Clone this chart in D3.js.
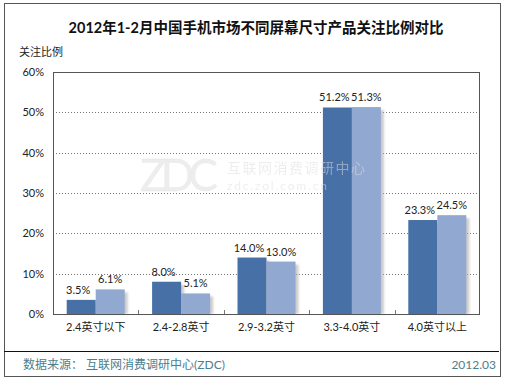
<!DOCTYPE html>
<html><head><meta charset="utf-8">
<script src="https://cdn.jsdelivr.net/npm/d3@7"></script>
<style>
html,body{margin:0;padding:0;background:#fff;}
svg{display:block;}
text{font-family:"Lato","Noto Sans CJK SC",sans-serif;}
</style></head>
<body>
<script>
const title = "2012年1-2月中国手机市场不同屏幕尺寸产品关注比例对比";
const yAxisTitle = "关注比例";
const categories = ["2.4英寸以下","2.4-2.8英寸","2.9-3.2英寸","3.3-4.0英寸","4.0英寸以上"];
const seriesJan = [3.5, 8.0, 14.0, 51.2, 23.3];
const seriesFeb = [6.1, 5.1, 13.0, 51.3, 24.5];
const yTicks = [0,10,20,30,40,50,60];
const sourceText = "数据来源：  互联网消费调研中心(ZDC)";
const dateText = "2012.03";

const W=507,H=381;
const svg=d3.select("body").append("svg").attr("width",W).attr("height",H);
svg.append("rect").attr("x",0).attr("y",0).attr("width",W).attr("height",H).attr("fill","#fff");

const defs=svg.append("defs");
const f=defs.append("filter").attr("id","sh").attr("x","-30%").attr("y","-10%").attr("width","160%").attr("height","130%");
f.append("feGaussianBlur").attr("stdDeviation",1.2);

// outer border
svg.append("rect").attr("x",4.5).attr("y",3.5).attr("width",496).attr("height",373)
  .attr("fill","none").attr("stroke","#555").attr("stroke-width",1);

svg.append("text").attr("x",256).attr("y",33).attr("text-anchor","middle")
  .attr("font-size",14.5).attr("font-weight","bold").attr("fill","#111").text(title);
svg.append("text").attr("x",19).attr("y",56).attr("font-size",11).attr("fill","#222").text(yAxisTitle);

const L=53,T=72,R=480,B=314;
const x=d3.scaleBand().domain(categories).range([L,R]);
const y=d3.scaleLinear().domain([0,60]).range([B,T]);
const inner=d3.scaleBand().domain(["a","b"]).range([0,58]);
const off=(x.bandwidth()-58)/2;

// gridlines
svg.append("g").selectAll("line").data(yTicks.filter(d=>d>0&&d<60)).join("line")
  .attr("x1",L).attr("x2",R).attr("y1",d=>Math.round(y(d))+0.5).attr("y2",d=>Math.round(y(d))+0.5)
  .attr("stroke","#777").attr("stroke-dasharray","1,2");

// y axis labels
const yAxis=d3.axisLeft(y).tickValues(yTicks).tickFormat(d=>d+"%").tickSize(0).tickPadding(9);
const ya=svg.append("g").attr("transform",`translate(${L},0)`).call(yAxis);
ya.select(".domain").remove();
ya.selectAll("text").attr("font-size",11).attr("fill","#222").attr("font-family","Lato,sans-serif");

const bars=[];
categories.forEach((c,i)=>{bars.push({c,k:"a",v:seriesJan[i]});bars.push({c,k:"b",v:seriesFeb[i]});});
const colors={a:"#4670a6",b:"#91a8d0"};

// shadows (per bar)
svg.append("g").selectAll("rect").data(bars).join("rect")
  .attr("x",d=>x(d.c)+off+inner(d.k)+3).attr("y",d=>y(d.v)+3)
  .attr("width",inner.bandwidth()).attr("height",d=>B-y(d.v)-3)
  .attr("fill","#aaa").attr("opacity",0.6).attr("filter","url(#sh)");
svg.append("g").selectAll("rect").data(bars).join("rect")
  .attr("x",d=>x(d.c)+off+inner(d.k)).attr("y",d=>y(d.v))
  .attr("width",inner.bandwidth()).attr("height",d=>B-y(d.v))
  .attr("fill",d=>colors[d.k]);

// watermark
const wm=svg.append("g").attr("opacity",0.5);
wm.append("text").attr("x",140).attr("y",191).attr("font-size",44).attr("font-family","'DejaVu Serif',serif")
  .attr("fill","#ddd").attr("stroke","#ccc").attr("stroke-width",0.3).attr("textLength",78).text("ZDC");
wm.append("text").attr("x",227).attr("y",173).attr("font-size",14).attr("fill","#ddd").attr("textLength",138).text("互联网消费调研中心");
wm.append("text").attr("x",227).attr("y",190).attr("font-size",12).attr("fill","#ddd").attr("font-family","'DejaVu Sans',sans-serif").attr("textLength",100).text("zdc.zol.com.cn");

// value labels
svg.append("g").selectAll("text").data(bars).join("text")
  .attr("x",d=>x(d.c)+off+inner(d.k)+inner.bandwidth()/2 - (d.k==="a"?3:0))
  .attr("y",d=>y(d.v)-6).attr("text-anchor","middle").attr("font-size",11).attr("fill","#222")
  .attr("font-family","Lato,sans-serif").text(d=>d.v.toFixed(1)+"%");

// plot border
svg.append("rect").attr("x",L+0.5).attr("y",T+0.5).attr("width",R-L-1).attr("height",B-T)
  .attr("fill","none").attr("stroke","#555");

// x axis
const xAxis=d3.axisBottom(x).tickSize(0).tickPadding(9);
const xa=svg.append("g").attr("transform",`translate(0,${B})`).call(xAxis);
xa.select(".domain").remove();
xa.selectAll("text").attr("font-size",11).attr("fill","#222");
svg.append("g").selectAll("line").data(categories.slice(1)).join("line")
  .attr("x1",d=>Math.round(x(d))+0.5).attr("x2",d=>Math.round(x(d))+0.5).attr("y1",B-4).attr("y2",B)
  .attr("stroke","#777");

// separator
svg.append("line").attr("x1",4).attr("x2",499).attr("y1",351.5).attr("y2",351.5).attr("stroke","#111");

svg.append("text").attr("x",23).attr("y",369).attr("font-size",12).attr("fill","#4b7e8e").text(sourceText);
svg.append("text").attr("x",496).attr("y",369).attr("text-anchor","end").attr("font-size",12).attr("fill","#4b7e8e").attr("font-family","Lato,sans-serif").text(dateText);
</script>
</body></html>
